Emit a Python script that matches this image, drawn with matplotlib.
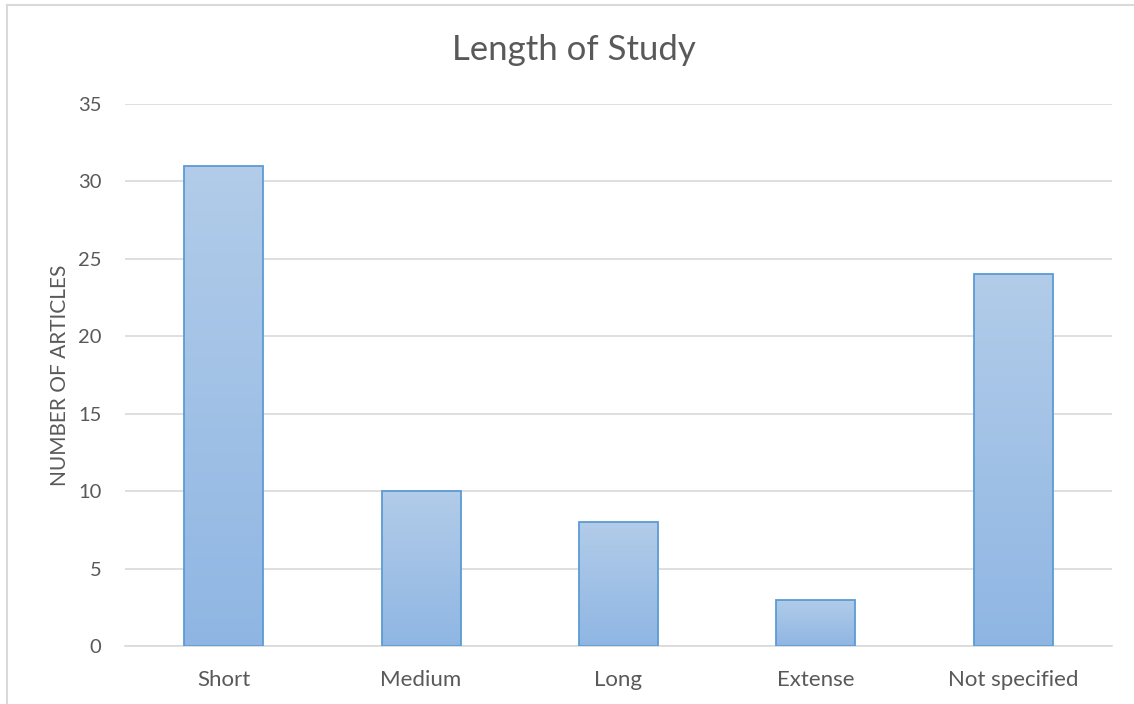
import matplotlib.pyplot as plt
import numpy as np
from matplotlib.colors import LinearSegmentedColormap
from matplotlib.lines import Line2D

categories = ['Short', 'Medium', 'Long', 'Extense', 'Not specified']
articles = [31, 10, 8, 3, 24]
yticks = [0, 5, 10, 15, 20, 25, 30, 35]

plt.rcParams['font.family'] = ['Lato', 'DejaVu Sans']
grey = '#595959'

fig = plt.figure(figsize=(11.34, 7.04), dpi=100)
ax = fig.add_axes([125 / 1134, 58 / 704, 987 / 1134, 542 / 704])

x = np.arange(len(categories))
bars = ax.bar(x, articles, width=0.4, color='none', edgecolor='#5b9bd5', linewidth=1.3, zorder=3)

# gradient fill inside each bar (lighter at the top)
cmap = LinearSegmentedColormap.from_list('excel', ['#8fb6e3', '#b2cce9'])
grad = np.linspace(0, 1, 256).reshape(-1, 1)
for b in bars:
    x0, y0 = b.get_x(), b.get_y()
    w, h = b.get_width(), b.get_height()
    im = ax.imshow(grad, cmap=cmap, origin='lower', aspect='auto',
                   extent=[x0, x0 + w, y0, y0 + h], zorder=2)
    im.set_clip_path(b)

ax.set_xlim(-0.5, len(categories) - 0.5)
ax.set_ylim(0, 35)
ax.set_yticks(yticks)
ax.set_xticks(x)
ax.set_xticklabels(categories)
ax.grid(axis='y', color='#d9d9d9', linewidth=1.2, zorder=0)
ax.set_axisbelow(True)
for s in ['top', 'right', 'left']:
    ax.spines[s].set_visible(False)
ax.spines['bottom'].set_color('#d9d9d9')
ax.spines['bottom'].set_linewidth(1.2)
ax.tick_params(axis='both', length=0, colors=grey)
ax.tick_params(axis='y', pad=17, labelsize=14.5)
ax.tick_params(axis='x', pad=17, labelsize=16)

ax.set_ylabel('NUMBER OF ARTICLES', color=grey, fontsize=15, labelpad=6)
# title is centred on the whole chart, not the plot area
fig.text(574 / 1134, 1 - 50 / 704, 'Length of Study', color=grey, fontsize=25,
         ha='center', va='center')

# chart border (top and left)
fig.add_artist(Line2D([7 / 1134, 1], [1 - 5 / 704, 1 - 5 / 704], color='#d9d9d9', linewidth=1.5))
fig.add_artist(Line2D([7 / 1134, 7 / 1134], [0, 1 - 5 / 704], color='#d9d9d9', linewidth=1.5))

fig.savefig('out.png', dpi=100)
